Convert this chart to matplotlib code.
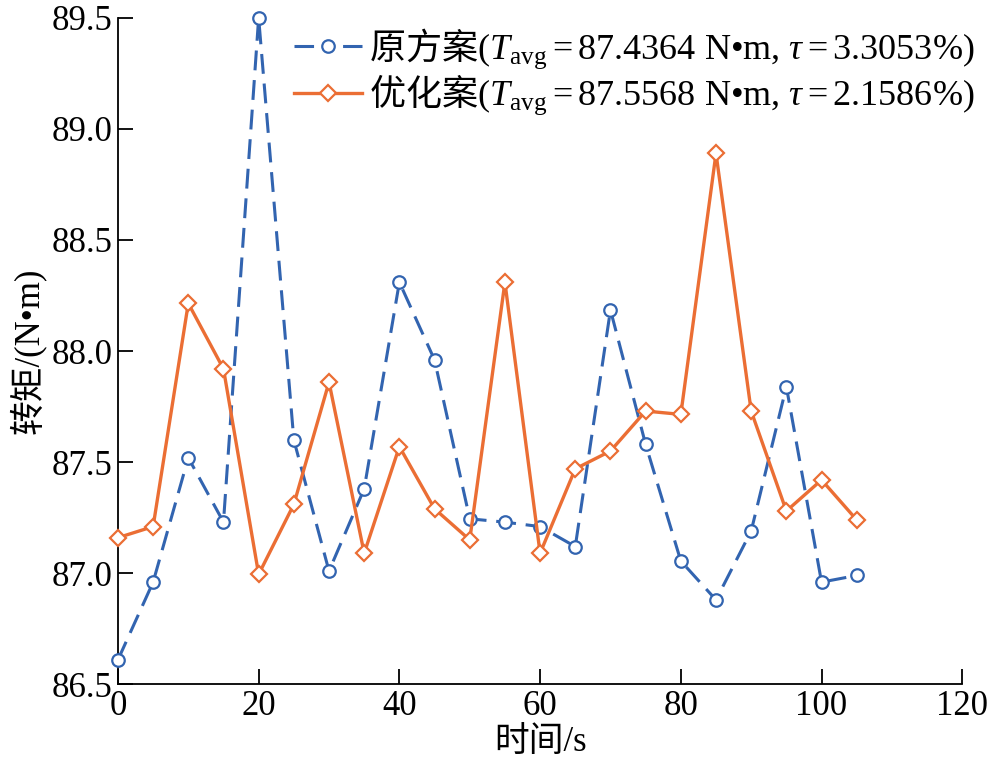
import matplotlib.pyplot as plt
from matplotlib.ticker import FormatStrFormatter

# data
time_s = [0, 5, 10, 15, 20, 25, 30, 35, 40, 45, 50, 55, 60, 65, 70, 75, 80, 85, 90, 95, 100, 105]
torque_orig = [86.61, 86.96, 87.52, 87.23, 89.50, 87.60, 87.01, 87.38, 88.31, 87.96, 87.245,
               87.23, 87.21, 87.12, 88.185, 87.58, 87.055, 86.88, 87.19, 87.84, 86.96, 86.99]
torque_opt = [87.16, 87.21, 88.215, 87.92, 86.995, 87.31, 87.86, 87.09, 87.57, 87.29, 87.15,
              88.31, 87.09, 87.47, 87.55, 87.73, 87.715, 88.89, 87.73, 87.28, 87.42, 87.24]
# CJK part goes through \mathsf (mapped to the CJK font below)
label_orig = '$\\mathsf{原方案}$($T_{\\mathrm{avg}}=$87.4364 N•m, $\\tau=$3.3053%)'
label_opt = '$\\mathsf{优化案}$($T_{\\mathrm{avg}}=$87.5568 N•m, $\\tau=$2.1586%)'
x_ticks = [0, 20, 40, 60, 80, 100, 120]
y_ticks = [86.5, 87.0, 87.5, 88.0, 88.5, 89.0, 89.5]

# fonts: Times-like for latin, CJK fallback
plt.rcParams['font.family'] = ['Liberation Serif', 'Noto Sans CJK SC']
plt.rcParams['mathtext.fontset'] = 'custom'
plt.rcParams['mathtext.rm'] = 'Liberation Serif'
plt.rcParams['mathtext.it'] = 'Liberation Serif:italic'
plt.rcParams['mathtext.sf'] = 'Noto Sans CJK SC'
plt.rcParams['axes.unicode_minus'] = False

fig = plt.figure(figsize=(9.91, 7.75), dpi=100)
ax = fig.add_axes([0.119, 0.117, 0.852, 0.860])

blue = '#3264B0'
orange = '#EB6E34'

ax.plot(time_s, torque_orig, color=blue, linewidth=2.2, dashes=(6.5, 3.2),
        marker='o', markersize=9, markerfacecolor='white', markeredgecolor=blue,
        markeredgewidth=1.6, label=label_orig, clip_on=False, zorder=3)
ax.plot(time_s, torque_opt, color=orange, linewidth=2.4,
        marker='D', markersize=8, markerfacecolor='white', markeredgecolor=orange,
        markeredgewidth=1.6, label=label_opt, clip_on=False, zorder=3)

ax.set_xlim(0, 120)
ax.set_ylim(86.5, 89.5)
ax.set_xticks(x_ticks)
ax.set_yticks(y_ticks)
ax.yaxis.set_major_formatter(FormatStrFormatter('%.1f'))

ax.spines['top'].set_visible(False)
ax.spines['right'].set_visible(False)
ax.spines['left'].set_linewidth(1.3)
ax.spines['bottom'].set_linewidth(1.3)
ax.tick_params(axis='both', direction='in', length=11, width=1.3, labelsize=25, pad=4)

ax.set_xlabel('时间/s', fontsize=25, labelpad=2)
ax.set_ylabel('转矩/(N•m)', fontsize=25, labelpad=4)

leg = ax.legend(loc='upper right', bbox_to_anchor=(1.045, 1.025), frameon=False, fontsize=26,
                handlelength=1.9, handletextpad=0.2, labelspacing=0.05, borderaxespad=0.3)
# legend handle of the dashed line: one dash each side of the marker
leg.legend_handles[0].set_dashes((6.4, 9.5))

fig.savefig('out.png', dpi=100)
